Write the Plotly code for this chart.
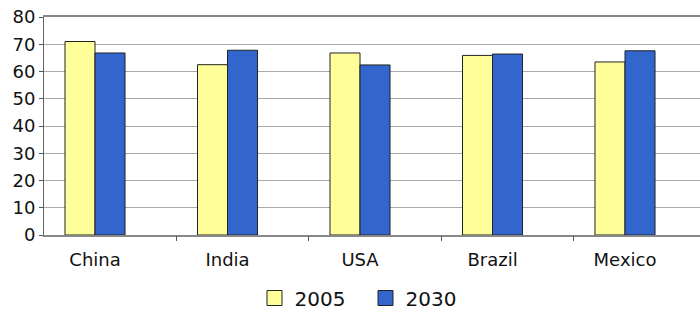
import plotly.graph_objects as go

categories = ["China", "India", "USA", "Brazil", "Mexico"]
series_names = ["2005", "2030"]
values_2005 = [71, 62.5, 66.8, 65.9, 63.5]
values_2030 = [66.8, 67.8, 62.4, 66.4, 67.6]
y_ticks = [0, 10, 20, 30, 40, 50, 60, 70, 80]

colors = ["#FFFF99", "#3366CC"]
positions = list(range(len(categories)))
boundaries = [p + 0.614 for p in positions[:-1]]

FONT = "DejaVu Sans"
fig = go.Figure()
for name, vals, col in zip(series_names, [values_2005, values_2030], colors):
    fig.add_trace(go.Bar(x=positions, y=vals, name=name, marker=dict(color=col, line=dict(color="#222222", width=1)),
                         showlegend=False))
    fig.add_trace(go.Scatter(x=[None], y=[None], mode="markers", name=name,
                             marker=dict(symbol="square", size=15, color=col, line=dict(color="#222222", width=1))))
# invisible trace for tick axis
fig.add_trace(go.Scatter(x=[None], y=[None], xaxis="x2", showlegend=False, hoverinfo="skip"))

xr = [-0.385, 4.566]
fig.update_layout(
    width=700, height=312,
    margin=dict(l=44, r=0, t=17, b=77, autoexpand=False),
    paper_bgcolor="white", plot_bgcolor="white",
    barmode="group", bargap=0.547, bargroupgap=0,
    font=dict(family=FONT, size=18, color="#111111"),
    xaxis=dict(range=xr, tickmode="array", tickvals=positions, ticktext=categories,
               ticks="", showgrid=False, showline=True, linecolor="#888888", linewidth=2, mirror=True,
               tickfont=dict(size=18), zeroline=False, automargin=False, ticklabelstandoff=7),
    xaxis2=dict(overlaying="x", matches="x", range=xr, tickmode="array", tickvals=boundaries,
                ticks="outside", ticklen=5, tickcolor="#555555", tickwidth=1, showticklabels=False,
                showgrid=False, showline=False, zeroline=False, side="bottom", automargin=False),
    yaxis=dict(range=[0, 80], tickmode="array", tickvals=y_ticks, showgrid=True, gridcolor="#AAAAAA",
               gridwidth=1, showline=True, linecolor="#666666", linewidth=1, ticks="outside",
               ticklen=4, tickcolor="#555555", zeroline=False, tickfont=dict(size=18), automargin=False),
    legend=dict(orientation="h", x=0.4901, xanchor="center",
                y=-0.289, yanchor="middle", font=dict(size=20), itemwidth=30,
                entrywidth=66, entrywidthmode="pixels"),
)
fig.write_html("out.html", config={"displayModeBar": False},
               post_script="document.body.style.margin='0';document.body.style.overflow='hidden';")
